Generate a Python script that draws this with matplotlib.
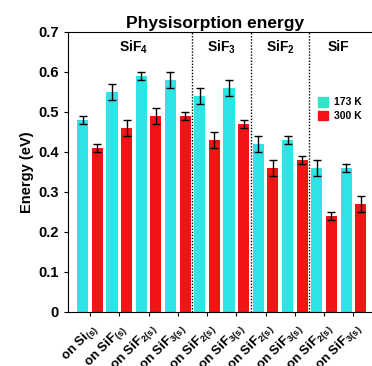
import matplotlib
matplotlib.use("Agg")
import matplotlib.pyplot as plt
import numpy as np
from matplotlib.patches import Patch

plt.rcParams["font.family"] = ["Liberation Sans", "DejaVu Sans"]
plt.rcParams["font.weight"] = "bold"
plt.rcParams["mathtext.fontset"] = "custom"
plt.rcParams["mathtext.rm"] = "Liberation Sans:bold"
plt.rcParams["mathtext.bf"] = "Liberation Sans:bold"
plt.rcParams["mathtext.it"] = "Liberation Sans:bold"

# data
tick_labels = [
    r"on Si$_{(s)}$", r"on SiF$_{(s)}$", r"on SiF$_{2(s)}$", r"on SiF$_{3(s)}$",
    r"on SiF$_{2(s)}$", r"on SiF$_{3(s)}$",
    r"on SiF$_{2(s)}$", r"on SiF$_{3(s)}$",
    r"on SiF$_{2(s)}$", r"on SiF$_{3(s)}$",
]
e_173 = [0.48, 0.55, 0.59, 0.58, 0.54, 0.56, 0.42, 0.43, 0.36, 0.36]
err_173 = [0.01, 0.02, 0.01, 0.02, 0.02, 0.02, 0.02, 0.01, 0.02, 0.01]
e_300 = [0.41, 0.46, 0.49, 0.49, 0.43, 0.47, 0.36, 0.38, 0.24, 0.27]
err_300 = [0.01, 0.02, 0.02, 0.01, 0.02, 0.01, 0.02, 0.01, 0.01, 0.02]
groups = [r"SiF$_4$", r"SiF$_3$", r"SiF$_2$", "SiF"]
group_sizes = [4, 2, 2, 2]

cyan = "#2fe4e6"
red = "#f01414"

fig = plt.figure(figsize=(3.72, 3.66), dpi=100)
ax = fig.add_axes([0.183, 0.148, 0.822, 0.765])

x = np.arange(len(e_173))
w = 0.38
ax.bar(x - 0.25, e_173, w, color=cyan, yerr=err_173, capsize=3,
       error_kw=dict(ecolor="black", elinewidth=1, capthick=1))
ax.bar(x + 0.25, e_300, w, color=red, yerr=err_300, capsize=3,
       error_kw=dict(ecolor="black", elinewidth=1, capthick=1))

# group separators and names
start = 0
for name, n in zip(groups, group_sizes):
    ax.text(start + (n - 1) / 2, 0.662, name, ha="center", va="center",
            fontsize=10, fontweight="bold")
    start += n
    if start < len(e_173):
        ax.axvline(start - 0.5, color="black", ls=(0, (1, 1.2)), lw=1)

ax.set_xlim(-0.75, 9.7)
ax.set_ylim(0, 0.7)
ax.set_yticks(np.arange(0, 0.71, 0.1))
ax.set_yticklabels(["0", "0.1", "0.2", "0.3", "0.4", "0.5", "0.6", "0.7"],
                   fontsize=10.5, fontweight="bold")
ax.set_xticks(x)
ax.set_xticklabels(tick_labels, rotation=45, ha="right", rotation_mode="anchor",
                   fontsize=9.5, fontweight="bold")
ax.tick_params(axis="x", length=3)
ax.tick_params(axis="y", length=3, right=True)
ax.set_ylabel("Energy (eV)", fontsize=10.5, fontweight="bold", labelpad=3)
ax.set_title("Physisorption energy", fontsize=12.5, fontweight="bold",
             pad=3, x=0.48)

handles = [Patch(color="#30e6c4", label="173 K"), Patch(color=red, label="300 K")]
ax.legend(handles=handles, loc="upper right", bbox_to_anchor=(0.99, 0.80),
          frameon=False, fontsize=7.5, handlelength=1.0, handleheight=1.0,
          handletextpad=0.5, labelspacing=0.3)

fig.savefig("out.png", dpi=100)
